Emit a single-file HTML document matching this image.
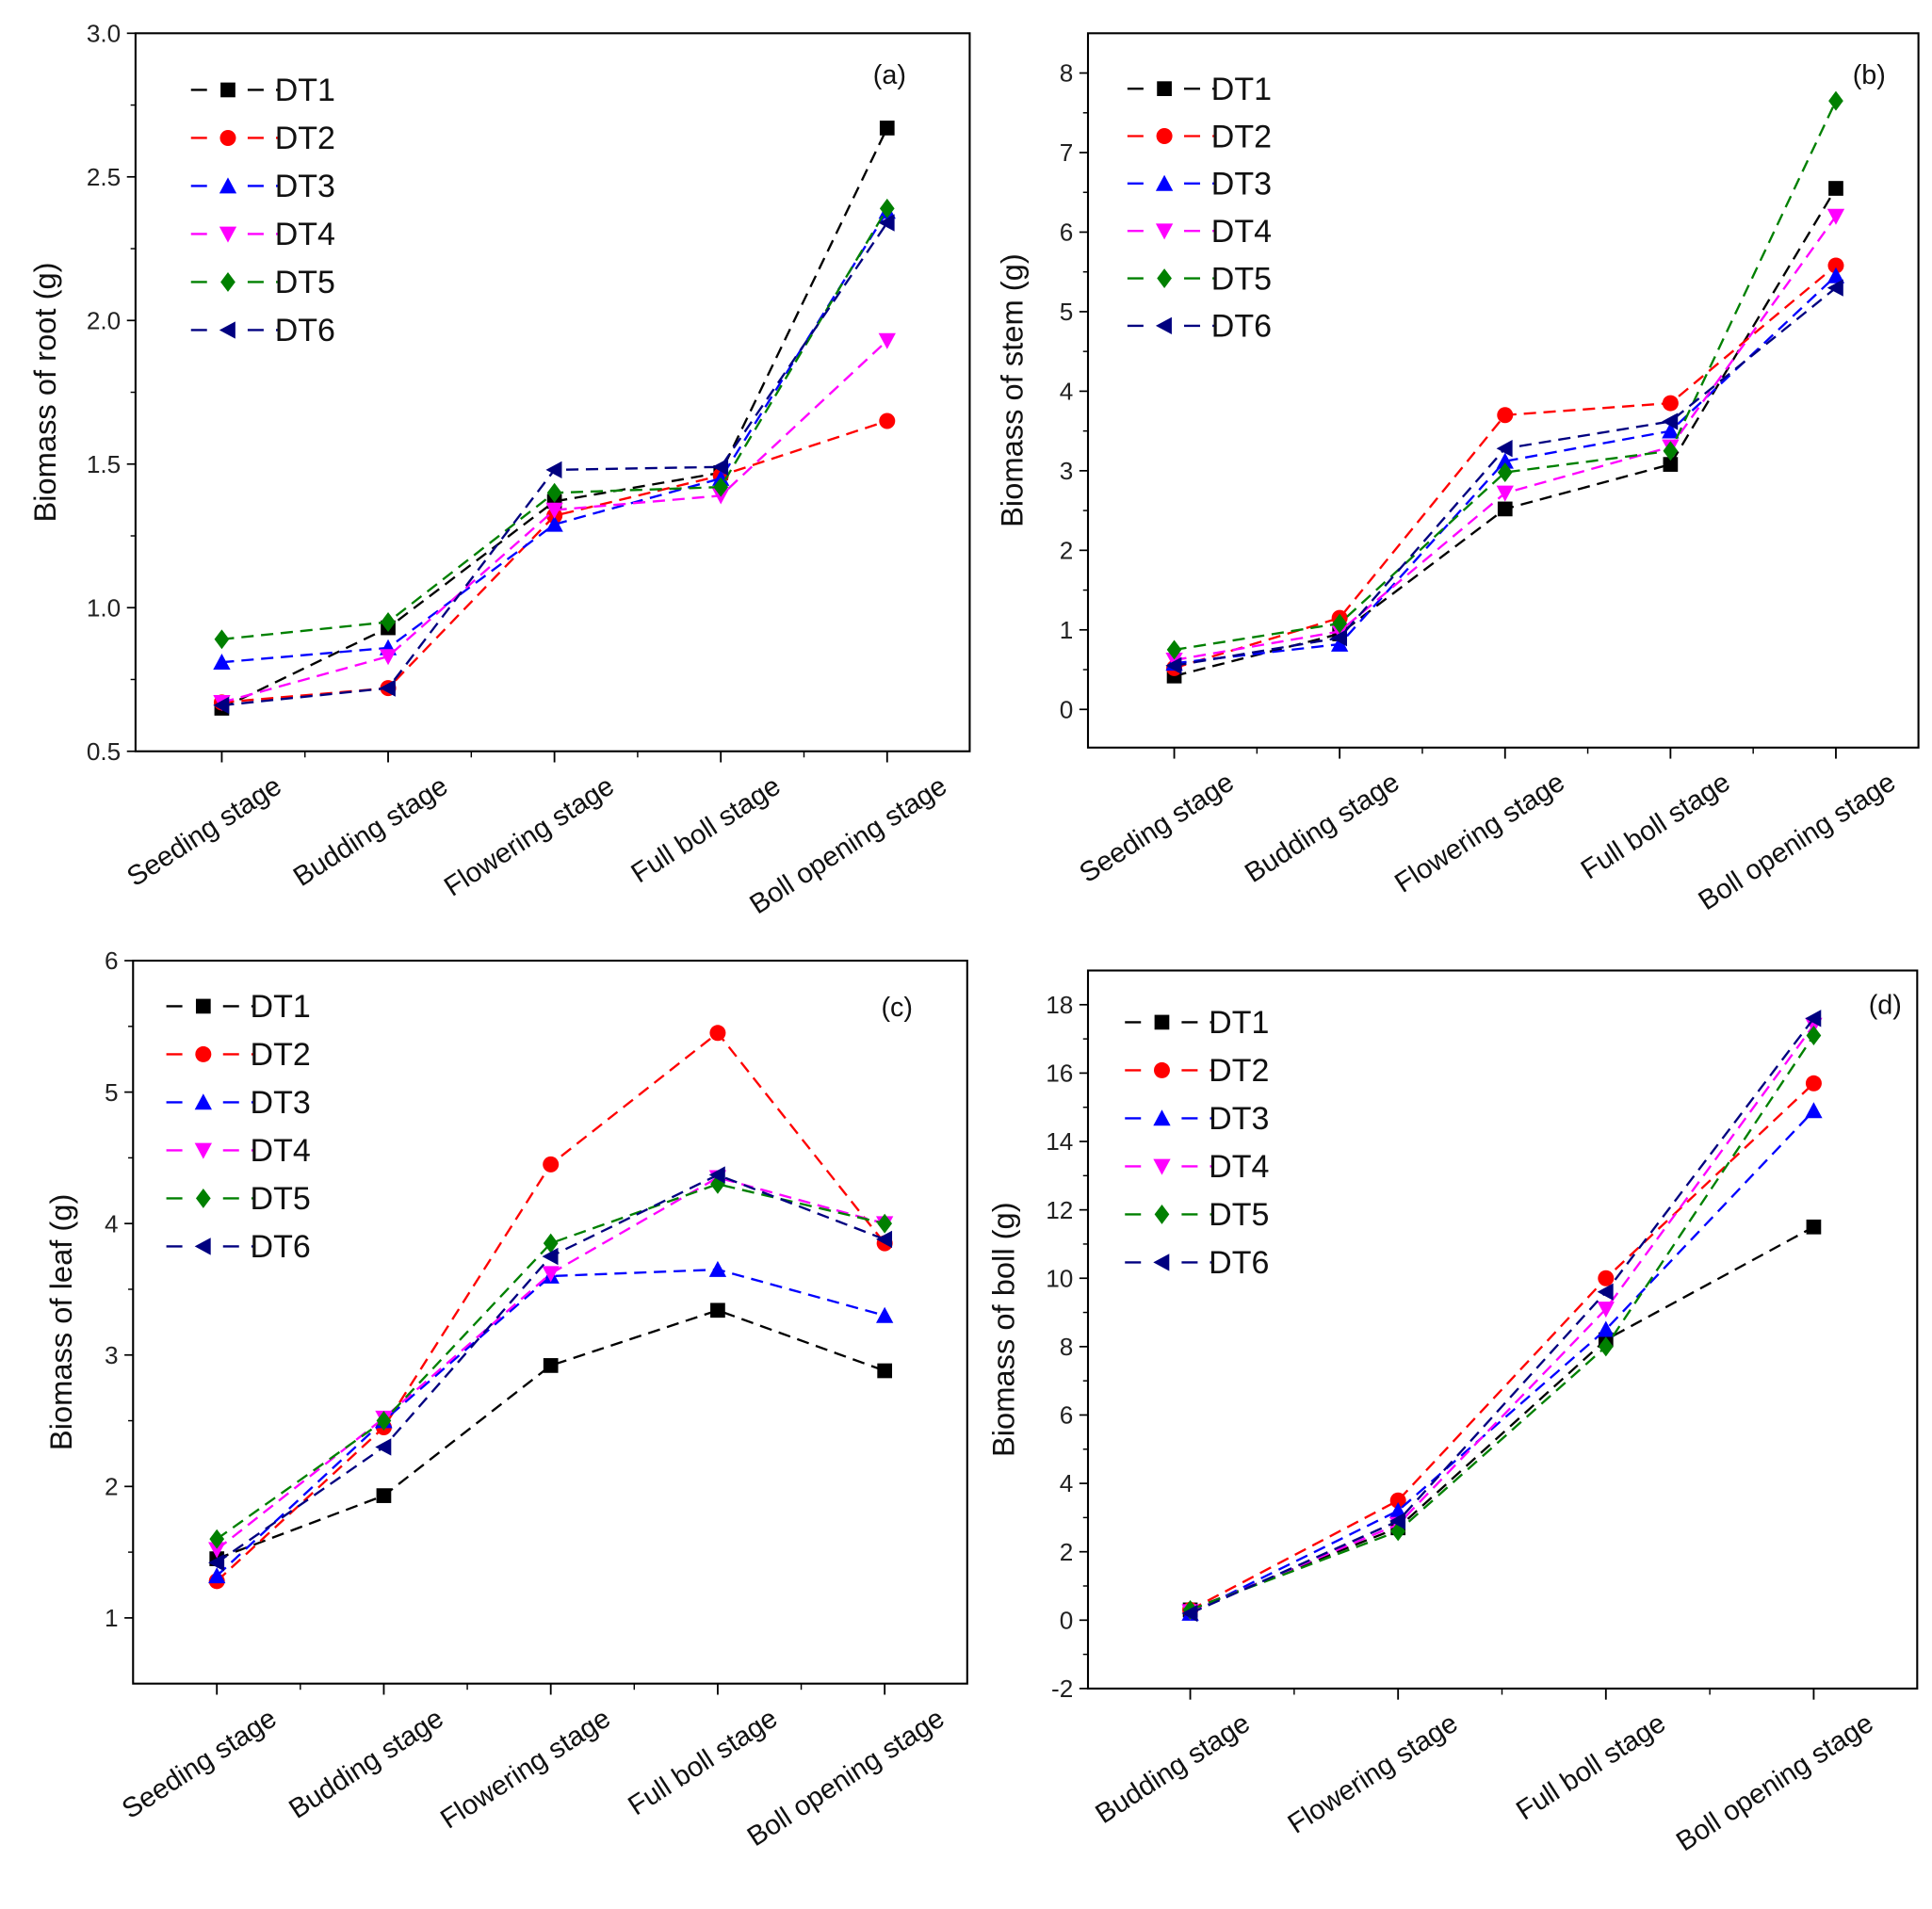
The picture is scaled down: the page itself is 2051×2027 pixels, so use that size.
<!DOCTYPE html>
<html><head><meta charset="utf-8">
<style>
html,body{margin:0;padding:0;background:#fff;}
svg{display:block;font-family:"Liberation Sans",Arial,sans-serif;}
</style></head>
<body>
<svg id="chart" width="2051" height="2027" viewBox="0 0 1568 1550" preserveAspectRatio="none" xmlns="http://www.w3.org/2000/svg">
<rect x="0" y="0" width="1568" height="1550" fill="#fff"/>
</svg>
<script>
const seriesNames = ["DT1","DT2","DT3","DT4","DT5","DT6"];
const seriesColors = ["#000000","#ff0000","#0000ff","#ff00ff","#008000","#000080"];
const seriesMarkers = ["square","circle","up","down","diamond","left"];

const stages5 = ["Seeding stage","Budding stage","Flowering stage","Full boll stage","Boll opening stage"];
const stages4 = ["Budding stage","Flowering stage","Full boll stage","Boll opening stage"];

const rootTicks = ["0.5","1.0","1.5","2.0","2.5","3.0"];
const rootDT1 = [0.65, 0.93, 1.37, 1.47, 2.67];
const rootDT2 = [0.67, 0.72, 1.32, 1.46, 1.65];
const rootDT3 = [0.81, 0.86, 1.29, 1.45, 2.38];
const rootDT4 = [0.67, 0.83, 1.34, 1.39, 1.93];
const rootDT5 = [0.89, 0.95, 1.40, 1.42, 2.39];
const rootDT6 = [0.66, 0.72, 1.48, 1.49, 2.34];

const stemTicks = ["0","1","2","3","4","5","6","7","8"];
const stemDT1 = [0.42, 0.95, 2.52, 3.08, 6.55];
const stemDT2 = [0.52, 1.15, 3.70, 3.85, 5.58];
const stemDT3 = [0.58, 0.82, 3.12, 3.50, 5.45];
const stemDT4 = [0.62, 0.98, 2.72, 3.30, 6.20];
const stemDT5 = [0.75, 1.08, 2.98, 3.25, 7.65];
const stemDT6 = [0.55, 0.90, 3.28, 3.62, 5.30];

const leafTicks = ["1","2","3","4","5","6"];
const leafDT1 = [1.45, 1.93, 2.92, 3.34, 2.88];
const leafDT2 = [1.28, 2.45, 4.45, 5.45, 3.85];
const leafDT3 = [1.32, 2.50, 3.60, 3.65, 3.30];
const leafDT4 = [1.52, 2.52, 3.62, 4.35, 4.00];
const leafDT5 = [1.60, 2.50, 3.85, 4.30, 4.00];
const leafDT6 = [1.42, 2.30, 3.75, 4.37, 3.88];

const bollTicks = ["-2","0","2","4","6","8","10","12","14","16","18"];
const bollDT1 = [0.30, 2.70, 8.20, 11.50];
const bollDT2 = [0.30, 3.50, 10.00, 15.70];
const bollDT3 = [0.20, 3.20, 8.50, 14.90];
const bollDT4 = [0.25, 2.80, 9.10, 17.40];
const bollDT5 = [0.30, 2.60, 8.00, 17.10];
const bollDT6 = [0.20, 2.90, 9.60, 17.60];

const NS = "http://www.w3.org/2000/svg";
const svg = document.getElementById("chart");
function mk(tag, attrs, parent){
  const e = document.createElementNS(NS, tag);
  for (const k in attrs) e.setAttribute(k, attrs[k]);
  (parent||svg).appendChild(e);
  return e;
}
function marker(g, type, x, y, color){
  const s = 6;
  let e;
  if (type === "square") e = mk("rect",{x:x-s,y:y-s,width:2*s,height:2*s,fill:color},g);
  else if (type === "circle") e = mk("circle",{cx:x,cy:y,r:s+0.5,fill:color},g);
  else if (type === "up") e = mk("polygon",{points:`${x},${y-s-1} ${x-s-1},${y+s} ${x+s+1},${y+s}`,fill:color},g);
  else if (type === "down") e = mk("polygon",{points:`${x},${y+s+1} ${x-s-1},${y-s} ${x+s+1},${y-s}`,fill:color},g);
  else if (type === "diamond") e = mk("polygon",{points:`${x},${y-s-2} ${x+s},${y} ${x},${y+s+2} ${x-s},${y}`,fill:color},g);
  else e = mk("polygon",{points:`${x-s-1},${y} ${x+s},${y-s-1} ${x+s},${y+s+1}`,fill:color},g);
  return e;
}

function panel(cfg){
  const g = mk("g",{});
  
  
  const {L,T,R,B,ymin,ymax,cats,catX0,catX1} = cfg;
  const ys = v => B - (v - ymin) / (ymax - ymin) * (B - T);
  const n = cats.length;
  const xs = i => catX0 + i * (catX1 - catX0) / (n - 1);
  const fr = mk("rect",{x:L,y:T,width:R-L,height:B-T,fill:"none",stroke:"#000","stroke-width":1.6},g);
  
  
  cfg.ticks.forEach(t => {
    const v = parseFloat(t), y = ys(v);
    mk("line",{x1:L-7,y1:y,x2:L,y2:y,stroke:"#000","stroke-width":1.3},g);
    const tx = mk("text",{x:L-12,y:y+7,"text-anchor":"end","font-size":20,fill:"#222"},g);
    tx.textContent = t;
    
    
  });
  const step = parseFloat(cfg.ticks[1]) - parseFloat(cfg.ticks[0]);
  for (let i = 0; i < cfg.ticks.length - 1; i++) {
    const y = ys(parseFloat(cfg.ticks[i]) + step/2);
    mk("line",{x1:L-4,y1:y,x2:L,y2:y,stroke:"#000","stroke-width":1.1},g);
  }
  const dx = (catX1 - catX0) / (n - 1);
  cats.forEach((c,i) => {
    const x = xs(i);
    mk("line",{x1:x,y1:B,x2:x,y2:B+9,stroke:"#000","stroke-width":1.4},g);
    if (i < n-1) mk("line",{x1:x+dx/2,y1:B,x2:x+dx/2,y2:B+5,stroke:"#000","stroke-width":1.1},g);
    const tx = mk("text",{x:x+50,y:B+32,"text-anchor":"end","font-size":22.5,fill:"#111",
      transform:`rotate(-33 ${x+50} ${B+32})`},g);
    tx.textContent = c;
    
    
  });
  const yt = mk("text",{x:cfg.titleX,y:(T+B)/2,"text-anchor":"middle","font-size":25,fill:"#111",
    transform:`rotate(-90 ${cfg.titleX} ${(T+B)/2})`},g);
  yt.textContent = cfg.title;
  
  
  const pl = mk("text",{x:cfg.letterX,y:cfg.letterY,"text-anchor":"middle","font-size":22,fill:"#111"},g);
  pl.textContent = cfg.letter;
  
  
  cfg.data.forEach((arr,si) => {
    const sg = mk("g",{},g);
    
    
    const pts = arr.map((v,i) => `${xs(i)},${ys(v)}`).join(" ");
    mk("polyline",{points:pts,fill:"none",stroke:seriesColors[si],"stroke-width":1.8,"stroke-dasharray":"10,6"},sg);
    arr.forEach((v,i) => {
      const m = marker(sg, seriesMarkers[si], xs(i), ys(v), seriesColors[si]);
      
      
    });
  });
  const lg = mk("g",{},g);
  
  
  seriesNames.forEach((nm,si) => {
    const y = cfg.legY + si * cfg.legDy;
    const eg = mk("g",{},lg);
    
    
    mk("line",{x1:cfg.legX,y1:y,x2:cfg.legX+72,y2:y,stroke:seriesColors[si],"stroke-width":1.8,"stroke-dasharray":"13,10"},eg);
    mk("rect",{x:cfg.legX+20,y:y-9,width:20,height:18,fill:"#fff"},eg);
    marker(eg, seriesMarkers[si], cfg.legX+30, y, seriesColors[si]);
    const t = mk("text",{x:cfg.legX+68,y:y+9,"font-size":26,fill:"#111"},eg);
    t.textContent = nm;
  });
}

panel({name:"panel-a-root",L:110,T:27,R:787,B:610,ymin:0.5,ymax:3.0,ticks:rootTicks,cats:stages5,catX0:180,catX1:720,
  data:[rootDT1,rootDT2,rootDT3,rootDT4,rootDT5,rootDT6],title:"Biomass of root (g)",titleX:45,letter:"(a)",letterX:722,letterY:68,legX:155,legY:73,legDy:39});
panel({name:"panel-b-stem",L:883,T:27,R:1557,B:607,ymin:-0.48,ymax:8.5,ticks:stemTicks,cats:stages5,catX0:953,catX1:1490,
  data:[stemDT1,stemDT2,stemDT3,stemDT4,stemDT5,stemDT6],title:"Biomass of stem (g)",titleX:830,letter:"(b)",letterX:1517,letterY:68,legX:915,legY:72,legDy:38.5});
panel({name:"panel-c-leaf",L:108,T:780,R:785,B:1367,ymin:0.5,ymax:6,ticks:leafTicks,cats:stages5,catX0:176,catX1:718,
  data:[leafDT1,leafDT2,leafDT3,leafDT4,leafDT5,leafDT6],title:"Biomass of leaf (g)",titleX:58,letter:"(c)",letterX:728,letterY:825,legX:135,legY:817,legDy:39});
panel({name:"panel-d-boll",L:883,T:788,R:1556,B:1371,ymin:-2,ymax:19,ticks:bollTicks,cats:stages4,catX0:966,catX1:1472,
  data:[bollDT1,bollDT2,bollDT3,bollDT4,bollDT5,bollDT6],title:"Biomass of boll (g)",titleX:823,letter:"(d)",letterX:1530,letterY:823,legX:913,legY:830,legDy:39});
</script>
</body></html>
